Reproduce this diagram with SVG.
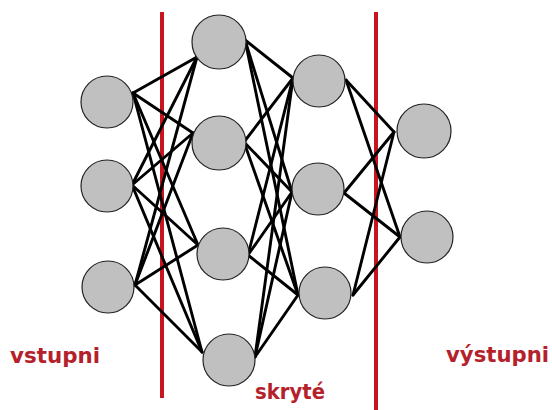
<svg xmlns="http://www.w3.org/2000/svg" width="552" height="410" viewBox="0 0 552 410">
<style>
.sep{stroke:#c8141f;stroke-width:4;fill:none}
.c line{stroke:#000;stroke-width:2.9;stroke-linecap:round}
.n{fill:#c0c0c0;stroke:#222;stroke-width:1.2}
.lbl{font-family:"DejaVu Sans",Verdana,sans-serif;font-weight:bold;font-size:21px;fill:#b5212b}
</style>
<rect width="552" height="410" fill="#fff"/>
<g id="separators">
<line class="sep" x1="162" y1="12" x2="162" y2="398"/>
<line class="sep" x1="376" y1="12" x2="376" y2="410"/>
</g>
<g id="connectors" class="c">
<line x1="133" y1="93" x2="197" y2="57"/>
<line x1="133" y1="93" x2="193" y2="133"/>
<line x1="133" y1="93" x2="198" y2="245"/>
<line x1="133" y1="93" x2="202" y2="352"/>
<line x1="132" y1="185" x2="197" y2="57"/>
<line x1="132" y1="185" x2="193" y2="133"/>
<line x1="132" y1="185" x2="198" y2="245"/>
<line x1="132" y1="185" x2="202" y2="352"/>
<line x1="135" y1="285" x2="197" y2="57"/>
<line x1="135" y1="285" x2="193" y2="133"/>
<line x1="135" y1="285" x2="198" y2="245"/>
<line x1="135" y1="285" x2="202" y2="352"/>
<line x1="245" y1="40" x2="293" y2="78"/>
<line x1="245" y1="40" x2="292" y2="192"/>
<line x1="245" y1="40" x2="298" y2="295"/>
<line x1="244" y1="142" x2="293" y2="78"/>
<line x1="244" y1="142" x2="292" y2="192"/>
<line x1="244" y1="142" x2="298" y2="295"/>
<line x1="248" y1="255" x2="293" y2="78"/>
<line x1="248" y1="255" x2="292" y2="192"/>
<line x1="248" y1="255" x2="298" y2="295"/>
<line x1="255" y1="357" x2="293" y2="78"/>
<line x1="255" y1="357" x2="292" y2="192"/>
<line x1="255" y1="357" x2="298" y2="295"/>
<line x1="346" y1="80" x2="394" y2="132"/>
<line x1="346" y1="80" x2="400" y2="237"/>
<line x1="344" y1="193" x2="394" y2="132"/>
<line x1="344" y1="193" x2="400" y2="237"/>
<line x1="353" y1="295" x2="394" y2="132"/>
<line x1="353" y1="295" x2="400" y2="237"/>
</g>
<g id="in1"><circle class="n" cx="107" cy="102" r="26"/></g>
<g id="in2"><circle class="n" cx="107" cy="186" r="26"/></g>
<g id="in3"><circle class="n" cx="108" cy="287" r="26"/></g>
<g id="h1a"><circle class="n" cx="219" cy="42" r="27"/></g>
<g id="h1b"><circle class="n" cx="219" cy="143" r="27"/></g>
<g id="h1c"><circle class="n" cx="223" cy="254" r="26"/></g>
<g id="h1d"><circle class="n" cx="229" cy="360" r="26"/></g>
<g id="h2a"><circle class="n" cx="319" cy="81" r="26"/></g>
<g id="h2b"><circle class="n" cx="318" cy="189" r="26"/></g>
<g id="h2c"><circle class="n" cx="325" cy="293" r="26"/></g>
<g id="out1"><circle class="n" cx="424" cy="131" r="27"/></g>
<g id="out2"><circle class="n" cx="427" cy="237" r="26"/></g>
<g id="labels">
<text class="lbl" x="10" y="363" textLength="90" lengthAdjust="spacingAndGlyphs">vstupni</text>
<text class="lbl" x="255" y="399" textLength="70" lengthAdjust="spacingAndGlyphs">skryté</text>
<text class="lbl" x="446" y="362" textLength="103" lengthAdjust="spacingAndGlyphs">výstupni</text>
</g>
</svg>
